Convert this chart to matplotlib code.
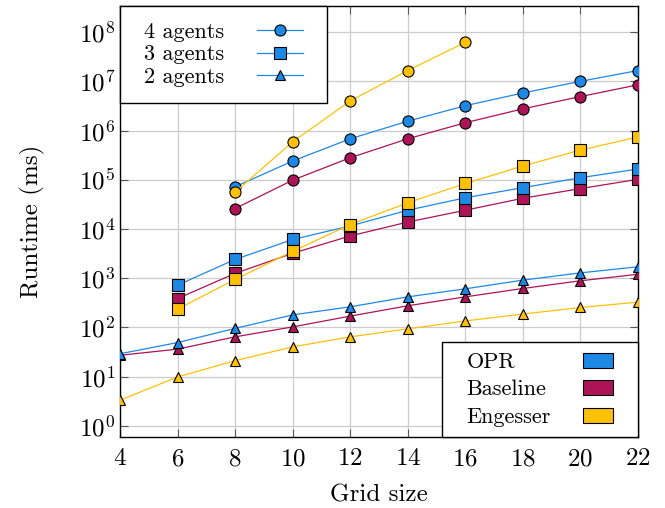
import matplotlib.pyplot as plt
from matplotlib.lines import Line2D
from matplotlib.patches import Patch
from matplotlib.offsetbox import DrawingArea

plt.rcParams['font.family'] = ['cmr10', 'DejaVu Serif']
plt.rcParams['mathtext.fontset'] = 'cm'
plt.rcParams['axes.formatter.use_mathtext'] = True

grid = [4, 6, 8, 10, 12, 14, 16, 18, 20, 22]

# 4 agents (circles)
opr_4 = [None, None, 7.2e4, 2.4e5, 6.8e5, 1.55e6, 3.2e6, 5.8e6, 1.0e7, 1.66e7]
base_4 = [None, None, 2.6e4, 9.8e4, 2.8e5, 6.8e5, 1.44e6, 2.76e6, 4.9e6, 8.5e6]
eng_4 = [None, None, 5.6e4, 5.9e5, 4.0e6, 1.66e7, 6.2e7, None, None, None]

# 3 agents (squares)
opr_3 = [None, 720, 2.4e3, 6.1e3, 1.15e4, 2.4e4, 4.3e4, 6.9e4, 1.1e5, 1.65e5]
base_3 = [None, 385, 1.25e3, 3.2e3, 7.2e3, 1.38e4, 2.4e4, 4.2e4, 6.6e4, 1.02e5]
eng_3 = [None, 235, 940, 3.5e3, 1.23e4, 3.4e4, 8.4e4, 1.9e5, 4.0e5, 7.4e5]

# 2 agents (triangles)
opr_2 = [29, 49, 95, 179, 261, 416, 606, 910, 1280, 1700]
base_2 = [27, 36, 64, 102, 169, 274, 416, 616, 883, 1200]
eng_2 = [3.3, 9.8, 21, 40, 64, 93, 135, 186, 253, 325]

methods = ['OPR', 'Baseline', 'Engesser']
colors = {'OPR': '#1e88e5', 'Baseline': '#ad1457', 'Engesser': '#ffc107'}
series = {
    'OPR': [opr_4, opr_3, opr_2],
    'Baseline': [base_4, base_3, base_2],
    'Engesser': [eng_4, eng_3, eng_2],
}
agent_labels = ['4 agents', '3 agents', '2 agents']
markers = ['o', 's', '^']
msizes = [8, 8, 7.5]

FS = 18
LFS = 16

fig = plt.figure(figsize=(6.65, 5.08), dpi=100)
ax = fig.add_axes([0.1805, 0.1398, 0.7789, 0.8484])

order = ['Baseline', 'OPR', 'Engesser']
for k, m in enumerate(order):
    for vals, mk, ms in zip(series[m], markers, msizes):
        xs = [g for g, v in zip(grid, vals) if v is not None]
        ys = [v for v in vals if v is not None]
        ax.plot(xs, ys, color=colors[m], marker=mk, markersize=ms,
                markerfacecolor=colors[m], markeredgecolor='black',
                markeredgewidth=0.8, linewidth=0.9, zorder=3 + k)

ax.set_yscale('log')
ax.set_xlim(4, 22)
ax.set_ylim(0.59, 3.4e8)
ax.set_xticks(grid)
ax.set_yticks([10.0 ** i for i in range(9)])
ax.grid(True, which='major', color='#cccccc', linewidth=0.9, zorder=0)
ax.tick_params(which='both', direction='in', top=True, right=True,
               labelsize=FS, color='0.35')
ax.tick_params(which='major', length=6)
ax.tick_params(which='minor', length=3.5)
ax.tick_params(axis='x', which='minor', top=False, bottom=False)
ax.tick_params(axis='x', pad=8)
for sp in ax.spines.values():
    sp.set_linewidth(1.0)

ax.set_xlabel('Grid size', fontsize=FS, labelpad=10)
ax.set_ylabel('Runtime (ms)', fontsize=FS, labelpad=24)


def side_space(leg, left, right):
    # labels left aligned, handles on the right, extra side margins (pt)
    box = leg._legend_handle_box
    col = box.get_children()[0]
    box.sep = 0
    box._children = [DrawingArea(left, 1), col, DrawingArea(right, 1)]


h1 = [Line2D([], [], color=colors['OPR'], marker=mk, markersize=ms,
             markerfacecolor=colors['OPR'], markeredgecolor='black',
             markeredgewidth=0.8, linewidth=0.9)
      for mk, ms in zip(markers, msizes)]
leg1 = ax.legend(h1, agent_labels, loc='upper left',
                 fontsize=LFS, markerfirst=False, fancybox=False,
                 edgecolor='black', framealpha=1, borderaxespad=0,
                 handlelength=2.1, labelspacing=0.12, borderpad=0.75,
                 handletextpad=1.45)
leg1.get_frame().set_linewidth(1.0)
leg1.set_zorder(10)
side_space(leg1, 5.5, 5)
ax.add_artist(leg1)

h2 = [Patch(facecolor=colors[m], edgecolor='black', linewidth=0.8) for m in methods]
leg2 = ax.legend(h2, methods, loc='lower right',
                 fontsize=LFS, markerfirst=False, fancybox=False,
                 edgecolor='black', framealpha=1, borderaxespad=0,
                 handlelength=1.35, handleheight=0.68, labelspacing=0.36,
                 borderpad=0.45, handletextpad=1.45)
leg2.get_frame().set_linewidth(1.0)
leg2.set_zorder(10)
side_space(leg2, 10.5, 10.8)

fig.canvas.draw()
renderer = fig.canvas.get_renderer()
for lg in (leg1, leg2):
    widths = [t.get_window_extent(renderer).width for t in lg.get_texts()]
    col = lg._legend_handle_box.get_children()[1]
    for row, w in zip(col.get_children(), widths):
        row.sep += (max(widths) - w) * 72.0 / fig.dpi

fig.savefig('out.png', dpi=100)
